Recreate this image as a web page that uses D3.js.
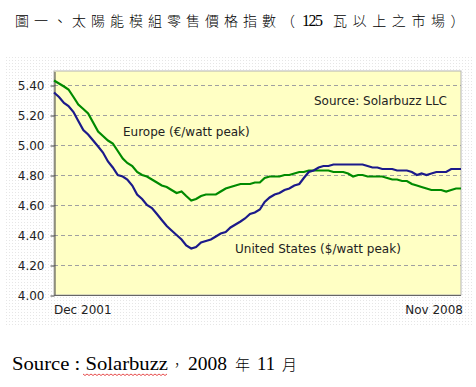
<!DOCTYPE html>
<html>
<head>
<meta charset="utf-8">
<script src="https://cdn.jsdelivr.net/npm/d3@7"></script>
<style>
body { margin: 0; background: #fff; }
text { font-family: "DejaVu Sans", Verdana, sans-serif; }
</style>
</head>
<body>
<div id="chart"></div>
<script>
// data, monthly Dec 2001 .. Nov 2008
var europe = [5.43, 5.41, 5.39, 5.37, 5.32, 5.27, 5.24, 5.21, 5.15, 5.09, 5.06, 5.03,
    5.01, 4.96, 4.91, 4.88, 4.86, 4.82, 4.80, 4.79, 4.77, 4.75, 4.73, 4.72,
    4.70, 4.68, 4.69, 4.66, 4.63, 4.64, 4.66, 4.67, 4.67, 4.67, 4.69, 4.71,
    4.72, 4.73, 4.74, 4.74, 4.74, 4.75, 4.75, 4.78, 4.79, 4.79, 4.79, 4.80,
    4.80, 4.81, 4.82, 4.82, 4.83, 4.83, 4.83, 4.83, 4.83, 4.82, 4.82, 4.82,
    4.81, 4.79, 4.80, 4.80, 4.79, 4.79, 4.79, 4.79, 4.78, 4.77, 4.77, 4.76,
    4.76, 4.74, 4.73, 4.72, 4.71, 4.70, 4.70, 4.70, 4.69, 4.70, 4.71, 4.71];
var unitedStates = [5.35, 5.32, 5.28, 5.26, 5.22, 5.16, 5.10, 5.07, 5.03, 4.99, 4.95, 4.89,
    4.85, 4.80, 4.79, 4.77, 4.73, 4.67, 4.64, 4.60, 4.58, 4.54, 4.50, 4.46,
    4.43, 4.40, 4.37, 4.33, 4.31, 4.32, 4.35, 4.36, 4.37, 4.39, 4.41, 4.42,
    4.45, 4.47, 4.49, 4.51, 4.54, 4.55, 4.57, 4.62, 4.65, 4.67, 4.68, 4.70,
    4.71, 4.73, 4.74, 4.78, 4.82, 4.83, 4.85, 4.86, 4.86, 4.87, 4.87, 4.87,
    4.87, 4.87, 4.87, 4.87, 4.86, 4.85, 4.85, 4.84, 4.84, 4.84, 4.83, 4.83,
    4.83, 4.82, 4.80, 4.81, 4.80, 4.81, 4.82, 4.82, 4.82, 4.84, 4.84, 4.84];
var yTicks = [4.00, 4.20, 4.40, 4.60, 4.80, 5.00, 5.20, 5.40];
var xTickLabels = ["Dec 2001", "Nov 2008"];
var months = d3.timeMonth.range(new Date(2001, 11, 1), new Date(2008, 11, 1));

var width = 476, height = 387;
var plotLeft = 54, plotRight = 461, plotTop = 71, plotBottom = 295;
var cjk = "'Noto Sans CJK TC', sans-serif";
var serif = "'Liberation Serif', 'Times New Roman', serif";

var svg = d3.select("#chart").append("svg")
    .attr("width", width)
    .attr("height", height);

// dotted backdrop
var pat = svg.append("defs").append("pattern")
    .attr("id", "dots")
    .attr("width", 3)
    .attr("height", 3)
    .attr("patternUnits", "userSpaceOnUse");
pat.append("rect").attr("width", 1).attr("height", 1).style("fill", "#e6e6e6");
svg.append("rect")
    .attr("x", 6).attr("y", 57)
    .attr("width", 466).attr("height", 268)
    .style("fill", "url(#dots)");

// title, in three pieces
svg.append("text")
    .text("圖一、太陽能模組零售價格指數（")
    .attr("x", 15).attr("y", 26)
    .style("font-family", cjk)
    .style("font-weight", 300)
    .style("font-size", "14px")
    .style("letter-spacing", "5px")
    .style("fill", "#000");
svg.append("text")
    .text("125")
    .attr("x", 302).attr("y", 26)
    .attr("textLength", 21)
    .style("font-family", serif)
    .style("font-size", "16px")
    .style("fill", "#000");
svg.append("text")
    .text("瓦以上之市場）")
    .attr("x", 333).attr("y", 26)
    .style("font-family", cjk)
    .style("font-weight", 300)
    .style("font-size", "14px")
    .style("letter-spacing", "5.6px")
    .style("fill", "#000");

// scales
var x = d3.scaleTime()
    .domain([months[0], months[months.length - 1]])
    .range([plotLeft, plotRight]);
var y = d3.scaleLinear()
    .domain([4.0, 4.0 + (plotBottom - plotTop) / 150])
    .range([plotBottom, plotTop]);

// plot area
svg.append("rect")
    .attr("x", plotLeft).attr("y", plotTop)
    .attr("width", plotRight - plotLeft)
    .attr("height", plotBottom - plotTop)
    .style("fill", "#ffffc4")
    .style("stroke", "#b4b4b4")
    .style("stroke-width", 1);

// grid
svg.selectAll("line.grid")
    .data(yTicks.slice(1)).enter()
    .append("line")
    .attr("class", "grid")
    .attr("x1", plotLeft)
    .attr("x2", plotRight)
    .attr("y1", (d) => {return Math.round(y(d)) + 0.5})
    .attr("y2", (d) => {return Math.round(y(d)) + 0.5})
    .style("stroke", "#a0a0a0")
    .style("stroke-dasharray", "4,3")
    .style("stroke-width", 1);

// y axis
var yAxis = svg.append("g")
    .attr("transform", "translate(" + (plotLeft + 0.5) + ",0.5)")
    .call(d3.axisLeft(y).tickValues(yTicks).tickFormat(d3.format(".2f"))
        .tickSize(4).tickPadding(6).tickSizeOuter(0));
yAxis.select(".domain").style("stroke", "#444");
yAxis.selectAll(".tick line").style("stroke", "#444");
yAxis.selectAll("text")
    .style("font-family", "'DejaVu Sans', sans-serif")
    .style("font-size", "12px")
    .style("fill", "#222");

// x axis line
svg.append("line")
    .attr("x1", plotLeft).attr("x2", plotRight)
    .attr("y1", plotBottom + 0.5).attr("y2", plotBottom + 0.5)
    .style("stroke", "#666");

// x labels
svg.selectAll("text.xlab")
    .data(xTickLabels).enter()
    .append("text")
    .attr("class", "xlab")
    .text((d) => {return d})
    .attr("x", (d, i) => {return i == 0 ? x(months[0]) : x(months[months.length - 1]) + 2})
    .attr("y", 314)
    .attr("text-anchor", (d, i) => {return i == 0 ? "start" : "end"})
    .style("font-size", "12px")
    .style("fill", "#222");

// lines
var line = d3.line()
    .x((d, i) => {return x(months[i])})
    .y((d) => {return y(d)});
svg.append("path")
    .datum(europe)
    .attr("d", line)
    .style("fill", "none")
    .style("stroke", "#008a00")
    .style("stroke-width", 2.2);
svg.append("path")
    .datum(unitedStates)
    .attr("d", line)
    .style("fill", "none")
    .style("stroke", "#1c1a8a")
    .style("stroke-width", 2.2);

// annotations
svg.append("text")
    .text("Source: Solarbuzz LLC")
    .attr("x", 447).attr("y", 105)
    .attr("text-anchor", "end")
    .style("font-size", "12px")
    .style("fill", "#222");
svg.append("text")
    .text("Europe (€/watt peak)")
    .attr("x", 123).attr("y", 136)
    .style("font-size", "12px")
    .style("fill", "#222");
svg.append("text")
    .text("United States ($/watt peak)")
    .attr("x", 235).attr("y", 253)
    .style("font-size", "12px")
    .style("fill", "#222");

// footer source, placed piece by piece
var footer = [
    {t: "Source : Solarbuzz", x: 12, len: 156, f: serif, s: 19},
    {t: "，", x: 170, len: null, f: cjk, s: 14},
    {t: "2008", x: 188, len: 39, f: serif, s: 19},
    {t: "年", x: 235, len: null, f: cjk, s: 15},
    {t: "11", x: 257, len: 18, f: serif, s: 19},
    {t: "月", x: 282, len: null, f: cjk, s: 15}
];
footer.forEach((d) => {
    var t = svg.append("text")
        .text(d.t)
        .attr("x", d.x)
        .attr("y", 370)
        .style("font-family", d.f)
        .style("font-size", d.s + "px")
        .style("font-weight", d.f == cjk ? 300 : 400)
        .style("fill", "#000");
    if (d.len) t.attr("textLength", d.len).attr("lengthAdjust", "spacingAndGlyphs");
});

// spell-check squiggle under Solarbuzz
var sq = "";
for (var k = 0; k <= 42; k++) {
    sq += (k == 0 ? "M" : "L") + (83 + k * 2) + "," + (374 + (k % 2 == 0 ? 0 : 1.5)) + " ";
}
svg.append("path")
    .attr("d", sq)
    .style("fill", "none")
    .style("stroke", "#e02020")
    .style("stroke-width", 0.8);
</script>
</body>
</html>
